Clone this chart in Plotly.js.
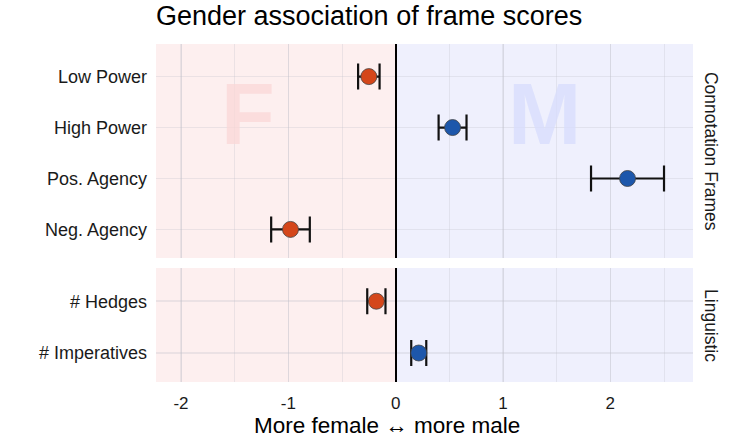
<!DOCTYPE html>
<html>
<head>
<meta charset="utf-8">
<script src="https://cdn.plot.ly/plotly-3.0.1.min.js"></script>
<style>html,body{margin:0;padding:0;background:#fff;}#chart{width:740px;height:445px;}</style>
</head>
<body>
<div id="chart"></div>
<script>
// Connotation Frames panel
const frameLabels = ["Low Power", "High Power", "Pos. Agency", "Neg. Agency"];
const frameScores = [-0.25, 0.53, 2.16, -0.98];
const frameErrors = [0.10, 0.13, 0.34, 0.18];
// Linguistic panel
const lingLabels = ["# Hedges", "# Imperatives"];
const lingScores = [-0.18, 0.215];
const lingErrors = [0.085, 0.07];
const xTicks = [-2, -1, 0, 1, 2];
const xTickText = ["-2", "-1", "0", "1", "2"];
const xRange = [-2.233, 2.77];

const femaleColor = "#d4461a";
const maleColor = "#1d57ab";
const colorFor = v => v < 0 ? femaleColor : maleColor;

function makeTrace(labels, scores, errs, xa, ya) {
  return {
    type: "scatter", mode: "markers",
    x: scores, y: labels, xaxis: xa, yaxis: ya,
    error_x: {type: "data", array: errs, visible: true, color: "#111", thickness: 2.2, width: 13},
    marker: {size: 16, color: scores.map(colorFor), line: {color: "#444", width: 0.8}},
    showlegend: false, hoverinfo: "x+y"
  };
}

const traces = [
  makeTrace(frameLabels, frameScores, frameErrors, "x2", "y"),
  makeTrace(lingLabels, lingScores, lingErrors, "x", "y2")
];

const gridCol = "rgba(190,190,200,0.28)";
const xCommon = {
  range: xRange, tickvals: xTicks, ticktext: xTickText, showgrid: true, gridcolor: gridCol, gridwidth: 1.6,
  minor: {dtick: 0.5, tick0: 0, showgrid: true, gridcolor: gridCol, gridwidth: 1},
  zeroline: true, zerolinecolor: "#000", zerolinewidth: 2, showline: false, ticks: "",
  fixedrange: true
};

const layout = {
  width: 740, height: 445,
  margin: {l: 156, r: 47, t: 44, b: 63},
  paper_bgcolor: "#fff", plot_bgcolor: "rgba(0,0,0,0)",
  font: {family: "Liberation Sans, Arial, sans-serif", size: 18, color: "#1a1a1a"},
  title: {text: "Gender association of frame scores", x: 0, xref: "paper", xanchor: "left",
          y: 1, yref: "container", yanchor: "top", pad: {t: 6},
          font: {size: 27, color: "#000"}},
  xaxis: Object.assign({}, xCommon, {anchor: "y2", ticklabelstandoff: 9,
    tickfont: {size: 17, color: "#1a1a1a"}}),
  xaxis2: Object.assign({}, xCommon, {anchor: "y", matches: "x", showticklabels: false}),
  yaxis: {domain: [0.367, 1], type: "category", range: [3.56, -0.64], showgrid: true,
          gridcolor: gridCol, gridwidth: 1.6, ticks: "", ticklabelstandoff: 8, zeroline: false,
          tickfont: {size: 18, color: "#1a1a1a"}, fixedrange: true},
  yaxis2: {domain: [0, 0.337], type: "category", range: [1.56, -0.64], showgrid: true,
           gridcolor: gridCol, gridwidth: 1.6, ticks: "", ticklabelstandoff: 8, zeroline: false,
           tickfont: {size: 18, color: "#1a1a1a"}, fixedrange: true},
  shapes: [
    {type: "rect", layer: "below", xref: "x2", yref: "y domain", x0: xRange[0], x1: 0, y0: 0, y1: 1, fillcolor: "#fdefef", line: {width: 0}},
    {type: "rect", layer: "below", xref: "x2", yref: "y domain", x0: 0, x1: xRange[1], y0: 0, y1: 1, fillcolor: "#eff0fd", line: {width: 0}},
    {type: "rect", layer: "below", xref: "x", yref: "y2 domain", x0: xRange[0], x1: 0, y0: 0, y1: 1, fillcolor: "#fdefef", line: {width: 0}},
    {type: "rect", layer: "below", xref: "x", yref: "y2 domain", x0: 0, x1: xRange[1], y0: 0, y1: 1, fillcolor: "#eff0fd", line: {width: 0}}
  ],
  annotations: [
    {text: "<b>F</b>", xref: "x2", yref: "y", x: -1.38, y: 0.72, showarrow: false,
     font: {size: 88, color: "rgba(250,215,215,0.75)", family: "Liberation Sans, Arial, sans-serif"}},
    {text: "<b>M</b>", xref: "x2", yref: "y", x: 1.39, y: 0.72, showarrow: false,
     font: {size: 88, color: "rgba(215,220,252,0.75)", family: "Liberation Sans, Arial, sans-serif"}},
    {text: "Connotation Frames", xref: "paper", yref: "y domain", x: 1, y: 0.5, xanchor: "left",
     xshift: 6, showarrow: false, textangle: 90, font: {size: 17.5, color: "#1a1a1a"}},
    {text: "Linguistic", xref: "paper", yref: "y2 domain", x: 1, y: 0.5, xanchor: "left",
     xshift: 6, showarrow: false, textangle: 90, font: {size: 17.5, color: "#1a1a1a"}},
    {text: "More female \u2194 more male", xref: "paper", yref: "paper", x: 0.43, y: -0.13,
     xanchor: "center", yanchor: "middle", showarrow: false, font: {size: 22.5, color: "#000"}}
  ]
};

Plotly.newPlot("chart", traces, layout, {displayModeBar: false, staticPlot: true});
</script>
</body>
</html>
